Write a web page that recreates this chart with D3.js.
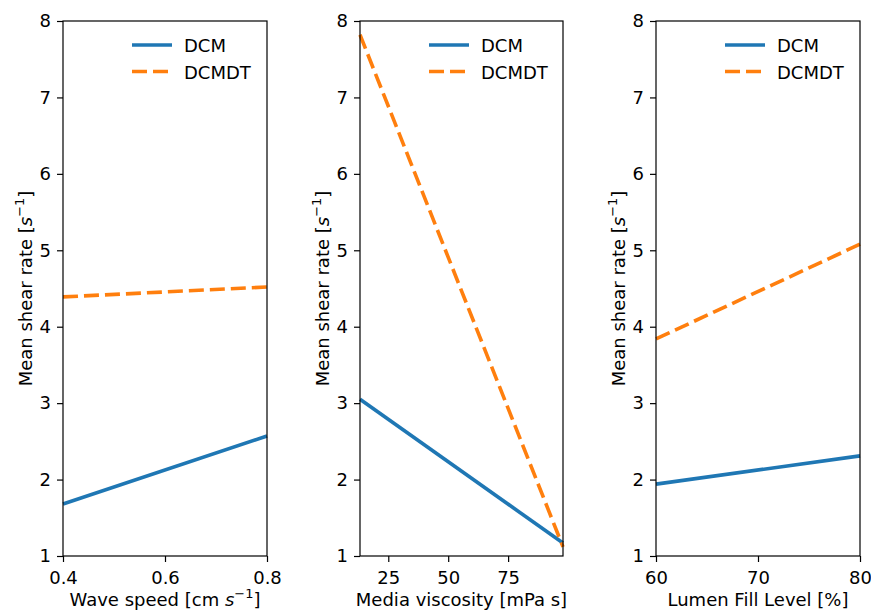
<!DOCTYPE html>
<html>
<head>
<meta charset="utf-8">
<script src="https://cdn.jsdelivr.net/npm/d3@7"></script>
<style>
  html, body { margin: 0; padding: 0; background: #fff; }
  svg { display: block; font-family: "DejaVu Sans", sans-serif; }
</style>
</head>
<body>
<svg id="chart" width="871" height="611"></svg>
<script>
// Wave speed panel
const waveSpeed = [0.4, 0.8];
const waveDCM = [1.68, 2.57];
const waveDCMDT = [4.39, 4.52];
const waveTicks = [0.4, 0.6, 0.8];

// Media viscosity panel
const viscosity = [13.2, 97.9];
const viscDCM = [3.05, 1.17];
const viscDCMDT = [7.82, 1.12];
const viscTicks = [25, 50, 75];

// Lumen fill level panel
const fillLevel = [60, 80];
const fillDCM = [1.94, 2.31];
const fillDCMDT = [3.84, 5.08];
const fillTicks = [60, 70, 80];

const yTicks = [1, 2, 3, 4, 5, 6, 7, 8];
const seriesNames = ["DCM", "DCMDT"];
const seriesColors = ["#1f77b4", "#ff7f0e"];

const panels = [
  { x: waveSpeed, series: [waveDCM, waveDCMDT], ticks: waveTicks, fmt: d3.format(".1f"),
    left: 63, right: 267, label: ["Wave speed [cm ", true] },
  { x: viscosity, series: [viscDCM, viscDCMDT], ticks: viscTicks, fmt: d3.format("d"),
    left: 360, right: 563, label: ["Media viscosity [mPa s]", false] },
  { x: fillLevel, series: [fillDCM, fillDCMDT], ticks: fillTicks, fmt: d3.format("d"),
    left: 656, right: 860, label: ["Lumen Fill Level [%]", false] }
];

const plotTop = 21, plotBottom = 556;
const svg = d3.select("#chart");
const FS = 18;

const y = d3.scaleLinear().domain([1, 8]).range([plotBottom, plotTop]);

// superscript "s^-1" appended to a text element
function unitInvSeconds(t) {
  t.append("tspan").attr("font-style", "italic").text("s");
  t.append("tspan").attr("font-size", FS * 0.72).attr("dy", -8).text("\u22121");
  t.append("tspan").attr("dy", 8).text("]");
}

panels.forEach(p => {
  const x = d3.scaleLinear().domain(d3.extent(p.x)).range([p.left, p.right]);
  const g = svg.append("g");

  // data lines
  p.series.forEach((vals, i) => {
    const line = d3.line().x((d, j) => x(p.x[j])).y(d => y(d));
    g.append("path")
      .datum(vals)
      .attr("d", line)
      .attr("fill", "none")
      .attr("stroke", seriesColors[i])
      .attr("stroke-width", 3.6)
      .attr("stroke-dasharray", i === 1 ? "15,6" : null);
  });

  // frame
  g.append("rect")
    .attr("x", p.left).attr("y", plotTop)
    .attr("width", p.right - p.left).attr("height", plotBottom - plotTop)
    .attr("fill", "none").attr("stroke", "#000").attr("stroke-width", 1.2);

  // y axis
  const ya = g.append("g").attr("transform", `translate(${p.left},0)`)
    .call(d3.axisLeft(y).tickValues(yTicks).tickFormat(d3.format("d")).tickSize(6).tickPadding(6));
  ya.select(".domain").remove();
  ya.selectAll("line").attr("stroke", "#000").attr("stroke-width", 1.2);
  ya.selectAll("text").attr("font-size", FS).attr("font-family", "DejaVu Sans").attr("fill", "#000");

  // x axis
  const xa = g.append("g").attr("transform", `translate(0,${plotBottom})`)
    .call(d3.axisBottom(x).tickValues(p.ticks).tickFormat(p.fmt).tickSize(6).tickPadding(9));
  xa.select(".domain").remove();
  xa.selectAll("line").attr("stroke", "#000").attr("stroke-width", 1.2);
  xa.selectAll("text").attr("font-size", FS).attr("font-family", "DejaVu Sans").attr("fill", "#000");

  // y label
  const cy = (plotTop + plotBottom) / 2;
  const yl = g.append("text")
    .attr("transform", `translate(${p.left - 31},${cy}) rotate(-90)`)
    .attr("text-anchor", "middle")
    .attr("font-size", FS).attr("fill", "#000");
  yl.append("tspan").text("Mean shear rate [");
  unitInvSeconds(yl);

  // x label
  const xl = g.append("text")
    .attr("x", (p.left + p.right) / 2).attr("y", 606)
    .attr("text-anchor", "middle")
    .attr("font-size", FS).attr("fill", "#000");
  if (p.label[1]) {
    xl.append("tspan").text(p.label[0]);
    unitInvSeconds(xl);
  } else {
    xl.text(p.label[0]);
  }

  // legend
  const lx = p.left + 69;
  seriesNames.forEach((name, i) => {
    const ly = 45 + i * 26.5;
    g.append("line")
      .attr("x1", lx).attr("x2", lx + 40)
      .attr("y1", ly).attr("y2", ly)
      .attr("stroke", seriesColors[i]).attr("stroke-width", 3.6)
      .attr("stroke-dasharray", i === 1 ? "15,6" : null);
    g.append("text")
      .attr("x", lx + 52).attr("y", ly + 7)
      .attr("font-size", FS).attr("fill", "#000")
      .text(name);
  });
});
</script>
</body>
</html>
